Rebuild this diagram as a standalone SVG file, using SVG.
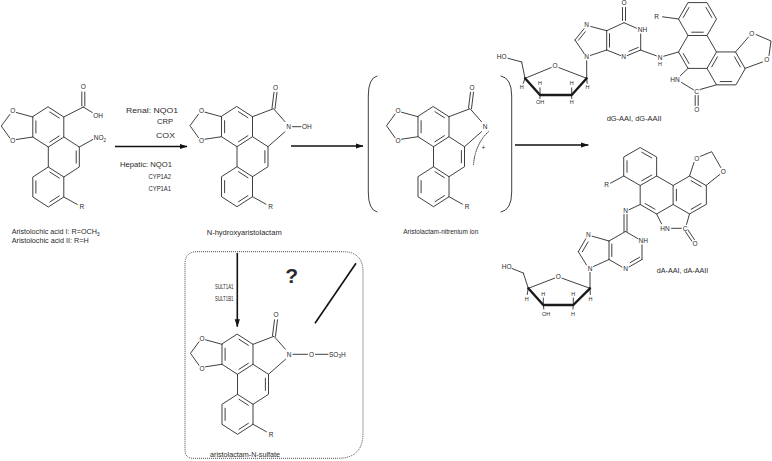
<svg xmlns="http://www.w3.org/2000/svg" width="772" height="461" viewBox="0 0 772 461">
<style>
.bd{fill:none;stroke:#2a2a2a;stroke-width:0.9;stroke-linecap:round;stroke-linejoin:round}
.bold{fill:none;stroke:#1a1a1a;stroke-width:2.4;stroke-linecap:round;stroke-linejoin:round}
.arr{fill:none;stroke:#111;stroke-width:1.6}
text{font-family:"Liberation Sans",Arial,sans-serif;fill:#2a2a2a}
.at{font-size:6.5px;text-anchor:middle}
.as{font-size:6.5px;text-anchor:start}
.hs{font-size:5.5px;text-anchor:middle}
.lb{font-size:7px}
.ez{font-size:7.5px;font-family:"Liberation Sans Narrow","Liberation Sans",Arial,sans-serif}
</style>
<defs>
<marker id="ah" markerUnits="userSpaceOnUse" markerWidth="8" markerHeight="6" refX="7.5" refY="3" orient="auto" viewBox="0 0 8 6"><path d="M0,0.4L8,3L0,5.6Z" fill="#111"/></marker>
<path id="phen" fill="none" stroke="#2a2a2a" stroke-width="0.9" stroke-linecap="round" stroke-linejoin="round" vector-effect="non-scaling-stroke" d="M0,-20L17.32,-10L17.32,10L0,20L-17.32,10L-17.32,-10Z M17.32,10L34.64,20L34.64,40L17.32,50L0,40L0,20 M17.32,50L17.32,70L0,80L-17.32,70L-17.32,50L0,40 M1.66,-15.04L12.2,-8.96 M12.2,8.96L1.66,15.04 M-13.86,6.08L-13.86,-6.08 M31.18,23.92L31.18,36.08 M-13.86,53.92L-13.86,66.08 M12.2,68.96L1.66,75.04 M1.66,44.96L12.2,51.04"/>
<path id="diox" fill="none" stroke="#2a2a2a" stroke-width="0.9" stroke-linecap="round" d="M-15.5,-10L-32,-14.5M-38.5,-12.5L-47,-1L-38.5,11M-15.5,10L-32,12.5M15.5,70L29,77.5"/>
<path id="lam" fill="none" stroke="#2a2a2a" stroke-width="0.9" stroke-linecap="round" d="M15.5,-10L36.5,-18L48,-5M48,5L31,20M35,-18.5L37,-34.5M38,-18L40,-34.5"/>
</defs>
<rect width="772" height="461" fill="#fff"/>

<g id="aristolochic-acid">
<g transform="translate(48.3,127)">
<use href="#phen" transform="scale(0.895,1)"/>
<use href="#diox"/>
<path class="bd" d="M15.5,-10L35,-20M33.5,-21L33.5,-35M36.5,-21L36.5,-35M35,-20L44,-14.5M31,20L44.5,12.5"/>
<text class="at" x="-35.5" y="-13.7">O</text>
<text class="at" x="-35.5" y="16.3">O</text>
<text class="at" x="35" y="-37.7">O</text>
<text class="as" x="45" y="-9.2">OH</text>
<text class="as" x="45.5" y="13">NO<tspan font-size="4.5" dy="1.5">2</tspan></text>
<text class="at" x="33.5" y="82.3">R</text>
</g>
<text class="lb" x="11.7" y="234.2" textLength="88" lengthAdjust="spacingAndGlyphs">Aristolochic acid I: R=OCH<tspan font-size="5" dy="1.5">3</tspan></text>
<text class="lb" x="11.7" y="242.5" textLength="77" lengthAdjust="spacingAndGlyphs">Aristolochic acid II: R=H</text>
</g>

<g id="n-hydroxyaristolactam">
<g transform="translate(237,126.7)">
<use href="#phen" transform="scale(0.895,1)"/>
<use href="#diox"/>
<use href="#lam"/>
<path class="bd" d="M55.5,0L64,0"/>
<text class="at" x="-35.5" y="-13.7">O</text>
<text class="at" x="-35.5" y="16.3">O</text>
<text class="at" x="38.5" y="-37.2">O</text>
<text class="at" x="51.5" y="2.3">N</text>
<text class="as" x="65" y="2.3">OH</text>
<text class="at" x="33.5" y="82.3">R</text>
</g>
<text class="lb" x="206.7" y="234.5" textLength="75" lengthAdjust="spacingAndGlyphs">N-hydroxyaristolactam</text>
</g>

<g id="nitrenium-ion">
<path class="bd" d="M377,76Q368.3,78 368.3,96V192Q368.3,210 377,212M501,76Q511.7,78 511.7,96V192Q511.7,210 501,212"/>
<g transform="translate(433.5,126.7)">
<use href="#phen" transform="scale(0.895,1)"/>
<use href="#diox"/>
<use href="#lam"/>
<path class="bd" stroke-dasharray="1,1.3" d="M55,5C47,12 41,24 40,38"/>
<text class="at" x="-35.5" y="-13.7">O</text>
<text class="at" x="-35.5" y="16.3">O</text>
<text class="at" x="38.5" y="-37.2">O</text>
<text class="at" x="51.5" y="2.3">N</text>
<text class="at" x="50" y="23.5" font-size="6">+</text>
<text class="at" x="33.5" y="82.3">R</text>
</g>
<text class="lb" x="403.3" y="234" textLength="75" lengthAdjust="spacingAndGlyphs">Aristolactam-nitrenium ion</text>
</g>

<g id="sulfation-box">
<path d="M197,251.7H343Q363,251.7 363,272V433Q363,458.3 338,458.3H193Q185,458.3 185,450V264Q185,251.7 197,251.7Z" fill="none" stroke="#333" stroke-width="0.9" stroke-dasharray="1,1"/>
<text x="291.7" y="282.5" font-family="'Liberation Serif',serif" font-weight="bold" font-size="21" text-anchor="middle">?</text>
</g>

<g id="aristolactam-n-sulfate">
<g transform="translate(237.5,354.3)">
<use href="#phen" transform="scale(0.895,1)"/>
<use href="#diox"/>
<use href="#lam"/>
<path class="bd" d="M55.5,0L70,0M78,0L90.5,0"/>
<text class="at" x="-35.5" y="-13.7">O</text>
<text class="at" x="-35.5" y="16.3">O</text>
<text class="at" x="38.5" y="-37.2">O</text>
<text class="at" x="51.5" y="2.3">N</text>
<text class="at" x="74" y="2.3">O</text>
<text class="as" x="91.5" y="2.3">SO<tspan font-size="4.5" dy="1.2">3</tspan><tspan dy="-1.2">H</tspan></text>
<text class="at" x="33.5" y="82.3">R</text>
</g>
<text class="lb" x="210" y="456.5" textLength="70" lengthAdjust="spacingAndGlyphs">aristolactam-N-sulfate</text>
</g>

<g id="dG-AA-adduct">
<use href="#phen" transform="translate(726,68.4) rotate(150) scale(0.95)"/>
<path class="bd" d="M622.5,20.5L622.5,7.5M625.5,20.5L625.5,7.5M624,22.7L636.5,28.2M640.7,34L640.7,50M640.7,50L627.2,55.6M638.3,47.4L629,51.3M620.5,55.5L606.7,50M606.7,50L606.7,30.7M609.5,47L609.5,33.7M606.7,30.7L624,22.7M606.7,30.7L590.8,26.5M584,28.8L575,40M585.3,31.7L578.5,40.2M575,40L584.2,53.6M590.5,55.4L606.7,50M586.7,60.8L586.7,78.3M641.2,50.3L656.3,55.8M663.8,56.2L678.5,52M586.7,78.3L558.8,67.6M551.2,67.6L525,78.3M525,78.3L521.7,62M508,58.3L521.7,62M525,78.3L523.3,83.3M586.7,78.3L587.2,83.3M540,95L540,88M540,95L540,98.5M571.7,95L571.7,88M571.7,95L571.7,98.5M678.5,19L662.5,16.8M688,68.4L680.3,75.8M681.5,82.5L693.5,89.8M700,89.5L716.5,84.85M695.2,95.5L695.2,105.5M698.2,95.5L698.2,105.5M735.5,52L748.5,37M745,68.4L762.5,62M756,34.5L771,41L769,55.5"/>
<path class="bold" d="M525,78.3L540,95L571.7,95L586.7,78.3"/>
<text class="at" x="624" y="5">O</text>
<text class="as" x="637.7" y="31.8">NH</text>
<text class="at" x="586.7" y="27.3">N</text>
<text class="at" x="623.5" y="59">N</text>
<text class="at" x="586.7" y="59">N</text>
<text class="at" x="660" y="59.6">N</text>
<text class="hs" x="660" y="65.8">H</text>
<text class="at" x="555" y="68.3">O</text>
<text class="at" x="501.7" y="59">HO</text>
<text class="hs" x="521.7" y="89.3">H</text>
<text class="hs" x="540" y="85.3">H</text>
<text class="hs" x="571.7" y="85.3">H</text>
<text class="hs" x="587.5" y="89.3">H</text>
<text class="hs" x="540" y="104">OH</text>
<text class="hs" x="571.7" y="104">H</text>
<text class="at" x="656.7" y="19">R</text>
<text class="at" x="675" y="82.3">HN</text>
<text class="at" x="696.7" y="94">C</text>
<text class="at" x="696.7" y="112.3">O</text>
<text class="at" x="751.7" y="35.6">O</text>
<text class="at" x="766.7" y="62.3">O</text>
<text class="lb" x="606.7" y="120.5" textLength="55" lengthAdjust="spacingAndGlyphs">dG-AAI, dG-AAII</text>
</g>

<g id="dA-AA-adduct">
<use href="#phen" transform="translate(689.55,195) rotate(120) scale(0.95)"/>
<path class="bd" d="M623.75,176L610.5,183.2M640.2,204.5L629,209.8M624,214.5L624,231.5M627,214.5L627,231.5M625.5,231.5L638,238.7M642,244.8L642,259.5M642,259.5L629,267M639.6,257.2L630.2,262.6M622,267L609,259.5M609,259.5L609,241M611.8,256.5L611.8,244M609,241L625.5,231.5M609,241L592.2,236.2M585.8,238.8L578.3,251.7M588,242L582.3,251.8M578.3,251.7L586.5,265M593.5,266.5L609,259.5M590,272.3L590,288.3M590,288.3L562,278.2M554.6,278.2L528.3,288.3M528.3,288.3L523.3,273M512,268.5L523.3,273M528.3,288.3L527.2,294.5M590,288.3L590.3,294.5M543.3,305L543.3,298M543.3,305L543.8,309M573.3,305L573.3,298M573.3,305L573,309M656.65,214L661.5,223.8M671.5,228.3L681.3,228.3M686.5,224.5L689.55,214M685.4,231.6L691.9,241.2M688,230L694.4,239.6M689.55,176L694,162.5M706,185.5L719.8,174.5M700.5,156.3L711.7,151.7L720.8,167.5"/>
<path class="bold" d="M528.3,288.3L543.3,305L573.3,305L590,288.3"/>
<text class="at" x="606.7" y="187.3">R</text>
<text class="at" x="625.5" y="213">N</text>
<text class="at" x="665" y="230.6">HN</text>
<text class="at" x="685" y="230.6">C</text>
<text class="at" x="695" y="245.6">O</text>
<text class="at" x="696.7" y="160.6">O</text>
<text class="at" x="723.3" y="174">O</text>
<text class="at" x="588.3" y="237.3">N</text>
<text class="as" x="638.5" y="243.3">NH</text>
<text class="at" x="625.5" y="271.3">N</text>
<text class="at" x="590" y="270.6">N</text>
<text class="at" x="558.3" y="279">O</text>
<text class="at" x="506.7" y="269">HO</text>
<text class="hs" x="526.7" y="301.3">H</text>
<text class="hs" x="543.3" y="296.3">H</text>
<text class="hs" x="573.3" y="296.3">H</text>
<text class="hs" x="590.5" y="301.3">H</text>
<text class="hs" x="546" y="315.6">OH</text>
<text class="hs" x="573" y="315.6">H</text>
<text class="lb" x="656.7" y="272.5" textLength="51.6" lengthAdjust="spacingAndGlyphs">dA-AAI, dA-AAII</text>
</g>

<g id="connectors">
<line class="arr" x1="115" y1="146.5" x2="187" y2="146.5" marker-end="url(#ah)"/>
<line class="arr" x1="291" y1="146" x2="363" y2="146" marker-end="url(#ah)"/>
<line class="arr" x1="515" y1="145" x2="588.3" y2="145" marker-end="url(#ah)"/>
<line class="arr" x1="237.3" y1="253" x2="237.3" y2="326.7" marker-end="url(#ah)"/>
<line class="arr" x1="315" y1="323.3" x2="356" y2="263.3"/>
<text class="ez" x="126" y="112.5" textLength="52" lengthAdjust="spacingAndGlyphs">Renal: NQO1</text>
<text class="ez" x="157" y="124" textLength="16" lengthAdjust="spacingAndGlyphs">CRP</text>
<text class="ez" x="156" y="137.5" textLength="19" lengthAdjust="spacingAndGlyphs">COX</text>
<text class="ez" x="120" y="166.5" textLength="52" lengthAdjust="spacingAndGlyphs">Hepatic: NQO1</text>
<text class="ez" x="148.5" y="179" textLength="22.5" lengthAdjust="spacingAndGlyphs">CYP1A2</text>
<text class="ez" x="148.5" y="191" textLength="22.5" lengthAdjust="spacingAndGlyphs">CYP1A1</text>
<text class="ez" x="215" y="289" font-size="7" textLength="18.5" lengthAdjust="spacingAndGlyphs">SULT1A1</text>
<text class="ez" x="215" y="300.8" font-size="7" textLength="18.5" lengthAdjust="spacingAndGlyphs">SULT1B1</text>
</g>
</svg>
